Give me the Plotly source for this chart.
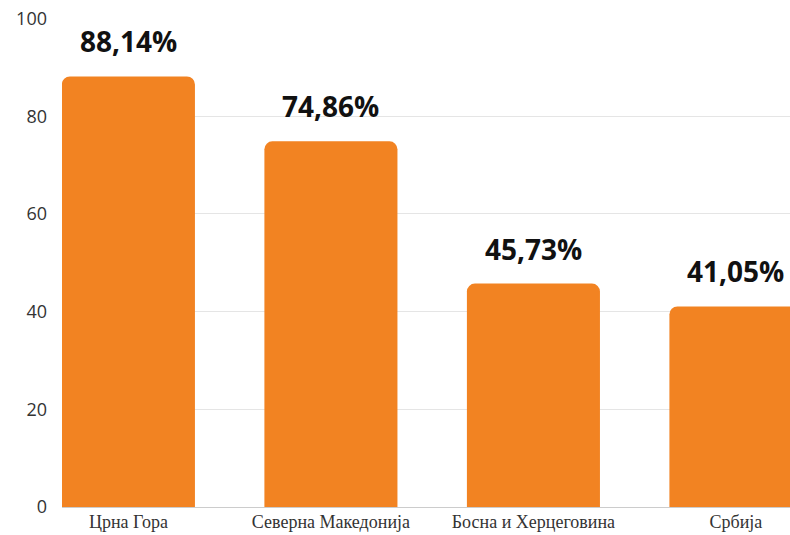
import plotly.graph_objects as go

categories = ["Црна Гора", "Северна Македонија", "Босна и Херцеговина", "Србија"]
values = [88.14, 74.86, 45.73, 41.05]
labels = ["88,14%", "74,86%", "45,73%", "41,05%"]
y_ticks = [0, 20, 40, 60, 80, 100]

fig = go.Figure()
fig.add_trace(go.Bar(
    x=categories, y=values,
    marker=dict(color="#F28322", cornerradius=8, line=dict(width=0)),
    hoverinfo="skip",
))

for c, v, t in zip(categories, values, labels):
    fig.add_annotation(x=c, y=v, text=t, showarrow=False, yshift=35,
                       yanchor="middle",
                       font=dict(family="Open Sans", size=28, color="#111111", weight="bold"))

fig.update_layout(
    width=790, height=535,
    margin=dict(l=62, r=0, t=18, b=28),
    paper_bgcolor="white", plot_bgcolor="white",
    bargap=0.343,
    showlegend=False,
    xaxis=dict(range=[-0.328, 3.267], showgrid=False, showline=False, zeroline=False,
               automargin=False, ticks="", ticklabelstandoff=2,
               tickfont=dict(family="Liberation Serif", size=18, color="#333333")),
    yaxis=dict(range=[0, 100.1], tickvals=y_ticks, showgrid=True, gridcolor="#e5e5e5",
               gridwidth=1, zeroline=True, zerolinecolor="#cccccc", zerolinewidth=1,
               automargin=False, ticks="", ticklabelstandoff=14,
               tickfont=dict(family="Open Sans", size=18, color="#333333")),
)

fig.write_html("out.html", config={"displayModeBar": False, "staticPlot": True},
               post_script="document.body.style.margin='0';document.body.style.overflow='hidden';")
